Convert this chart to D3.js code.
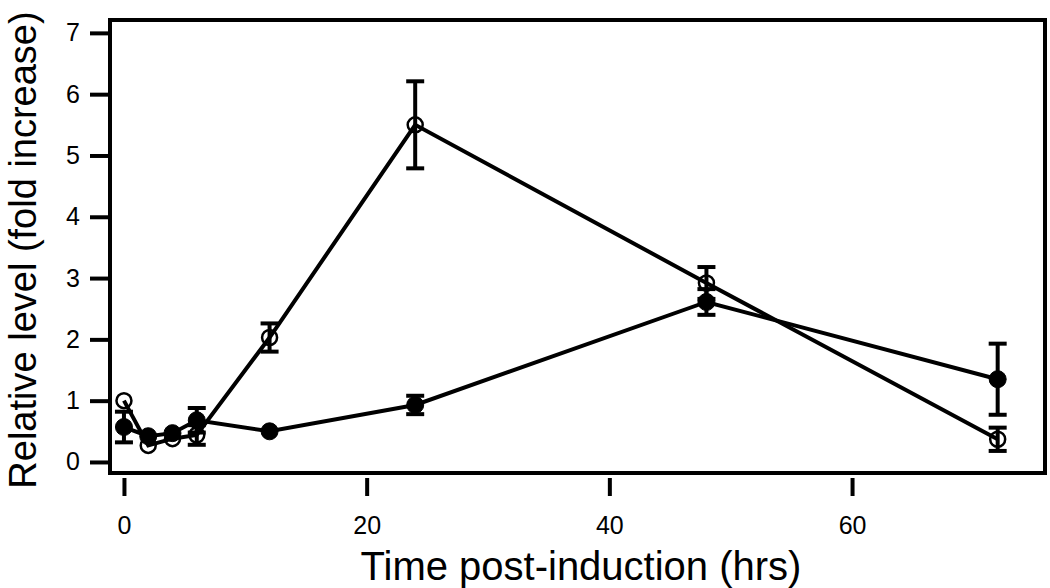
<!DOCTYPE html>
<html><head><meta charset="utf-8">
<script src="https://cdn.jsdelivr.net/npm/d3@7"></script>
<style>body{margin:0;background:#fff}svg{display:block}text{font-family:"Liberation Sans",Arial,sans-serif;fill:#000}</style>
</head><body><svg id="c" width="1050" height="588"></svg>
<script>
const times = [0, 2, 4, 6, 12, 24, 48, 72];
const openVals = [1.0, 0.27, 0.38, 0.44, 2.03, 5.5, 2.92, 0.37];
const openErr = [0.0, 0.0, 0.0, 0.16, 0.23, 0.71, 0.26, 0.19];
const filledVals = [0.57, 0.42, 0.47, 0.68, 0.5, 0.93, 2.61, 1.35];
const filledErr = [0.25, 0.0, 0.0, 0.2, 0.0, 0.15, 0.21, 0.58];
const xTicks = [0, 20, 40, 60];
const yTicks = [0, 1, 2, 3, 4, 5, 6, 7];

const svg = d3.select("#c");
const x = d3.scaleLinear().domain([-1.15, 75.9]).range([110, 1045]);
const y = d3.scaleLinear().domain([-0.18, 7.21]).range([473, 20]);

// frame
svg.append("rect").attr("x", 110).attr("y", 20).attr("width", 935).attr("height", 453)
  .attr("fill", "none").attr("stroke", "#000").attr("stroke-width", 4);

// y axis
const ya = svg.append("g").attr("transform", "translate(110,0)")
  .call(d3.axisLeft(y).tickValues(yTicks).tickSize(20).tickPadding(10).tickFormat(d3.format("d")));
ya.select(".domain").remove();
ya.selectAll("line").attr("stroke-width", 4);
ya.selectAll("text").attr("font-size", 25);

// x axis
const xa = svg.append("g").attr("transform", "translate(0,478)")
  .call(d3.axisBottom(x).tickValues(xTicks).tickSize(18).tickPadding(20).tickFormat(d3.format("d")));
xa.select(".domain").remove();
xa.selectAll("line").attr("stroke-width", 4);
xa.selectAll("text").attr("font-size", 25);

svg.append("text").attr("x", 581).attr("y", 580).attr("text-anchor", "middle")
  .attr("font-size", 40).text("Time post-induction (hrs)");
svg.append("text").attr("transform", "translate(36,250) rotate(-90)").attr("text-anchor", "middle")
  .attr("font-size", 38).text("Relative level (fold increase)");

const line = d3.line().x(d => x(d[0])).y(d => y(d[1]));
function series(vals, errs, filled) {
  const pts = times.map((t, i) => [t, vals[i], errs[i]]);
  svg.append("path").datum(pts).attr("d", line).attr("fill", "none")
    .attr("stroke", "#000").attr("stroke-width", 4);
  const eb = svg.append("g");
  pts.filter(d => d[2] > 0).forEach(d => {
    const cx = x(d[0]);
    eb.append("line").attr("x1", cx).attr("x2", cx).attr("y1", y(d[1] - d[2])).attr("y2", y(d[1] + d[2]))
      .attr("stroke", "#000").attr("stroke-width", 4);
    [d[1] - d[2], d[1] + d[2]].forEach(v => {
      eb.append("line").attr("x1", cx - 9).attr("x2", cx + 9).attr("y1", y(v)).attr("y2", y(v))
        .attr("stroke", "#000").attr("stroke-width", 4);
    });
  });
  svg.append("g").selectAll("circle").data(pts).join("circle")
    .attr("cx", d => x(d[0])).attr("cy", d => y(d[1])).attr("r", filled ? 8.5 : 7.5)
    .attr("fill", filled ? "#000" : "none").attr("stroke", "#000").attr("stroke-width", filled ? 1 : 2.5);
}
series(filledVals, filledErr, true);
series(openVals, openErr, false);
</script></body></html>
